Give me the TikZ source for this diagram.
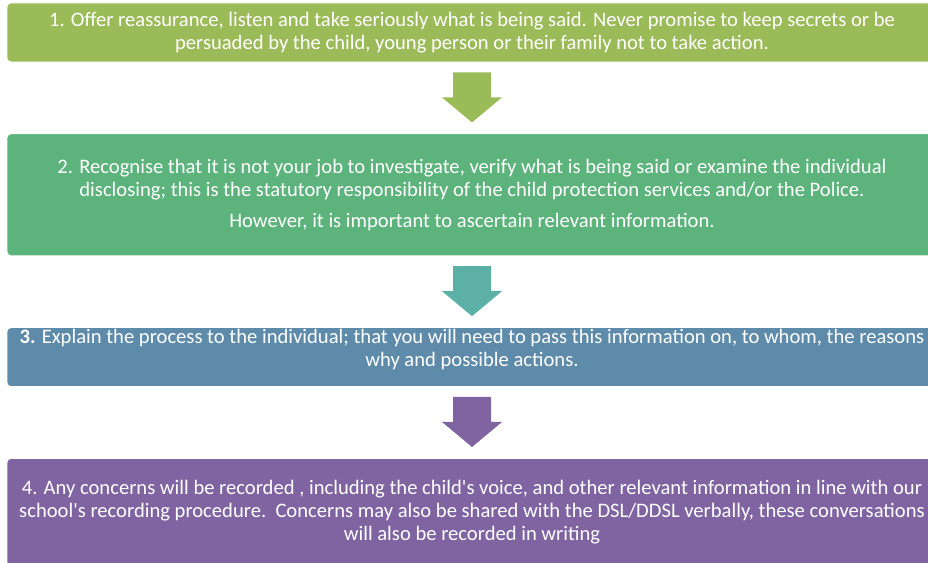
\documentclass[tikz,border=0pt]{standalone}
\usepackage{fontspec}
\setmainfont{Carlito}
\usetikzlibrary{positioning, calc}

\definecolor{stepone}{HTML}{9BBB59}
\definecolor{steptwo}{HTML}{5CB37C}
\definecolor{arrowtwo}{HTML}{5DB0A5}
\definecolor{stepthree}{HTML}{5E8BAA}
\definecolor{stepfour}{HTML}{8064A2}

\tikzset{
  panel/.style={rectangle, rounded corners=4pt, draw=white, line width=0.8pt, minimum width=930pt, inner sep=0pt},
  paneltext/.style={text=white, align=center, font=\fontsize{20.6}{23}\selectfont, inner sep=0pt},
  downarrow/.pic={\path[pic actions] (-19pt,-10pt) -- (19pt,-10pt) -- (19pt,-35pt) -- (30pt,-35pt) -- (0pt,-60pt) -- (-30pt,-35pt) -- (-19pt,-35pt) -- cycle;}
}

\begin{document}
\begin{tikzpicture}[x=1pt, y=1pt, node distance=71pt]
\useasboundingbox (0,0) rectangle (928,562);
\clip (0,0) rectangle (928,562);

% step 1
\node[panel, fill=stepone, minimum height=59pt] (b1) at (472,529.5) {};
\node[paneltext] (t1) at (b1.center) {1. Offer reassurance, listen and take seriously what is being said. Never promise to keep secrets or be\\ persuaded by the child, young person or their family not to take action.};

% step 2
\node[panel, fill=steptwo, minimum height=122pt, below=of b1] (b2) {};
\node[paneltext] (t2) at (b2.center) {2. Recognise that it is not your job to investigate, verify what is being said or examine the individual\\ disclosing; this is the statutory responsibility of the child protection services and/or the Police.\\[8pt] However, it is important to ascertain relevant information.};

% step 3
\node[panel, fill=stepthree, minimum height=59pt, below=of b2] (b3) {};
\node[paneltext, yshift=8pt] (t3) at (b3.center) {\textbf{3.} Explain the process to the individual; that you will need to pass this information on, to whom, the reasons\\ why and possible actions.};

% step 4
\node[panel, fill=stepfour, minimum height=108pt, below=of b3] (b4) {};
\node[paneltext] (t4) at (b4.center) {4. Any concerns will be recorded , including the child\textquotesingle s voice, and other relevant information in line with our\\ school\textquotesingle s recording procedure.\ \ Concerns may also be shared with the DSL/DDSL verbally, these conversations\\ will also be recorded in writing};

% arrows
\pic[fill=stepone] at (b1.south) {downarrow};
\pic[fill=arrowtwo] at (b2.south) {downarrow};
\pic[fill=stepfour] at (b3.south) {downarrow};

\end{tikzpicture}
\end{document}
